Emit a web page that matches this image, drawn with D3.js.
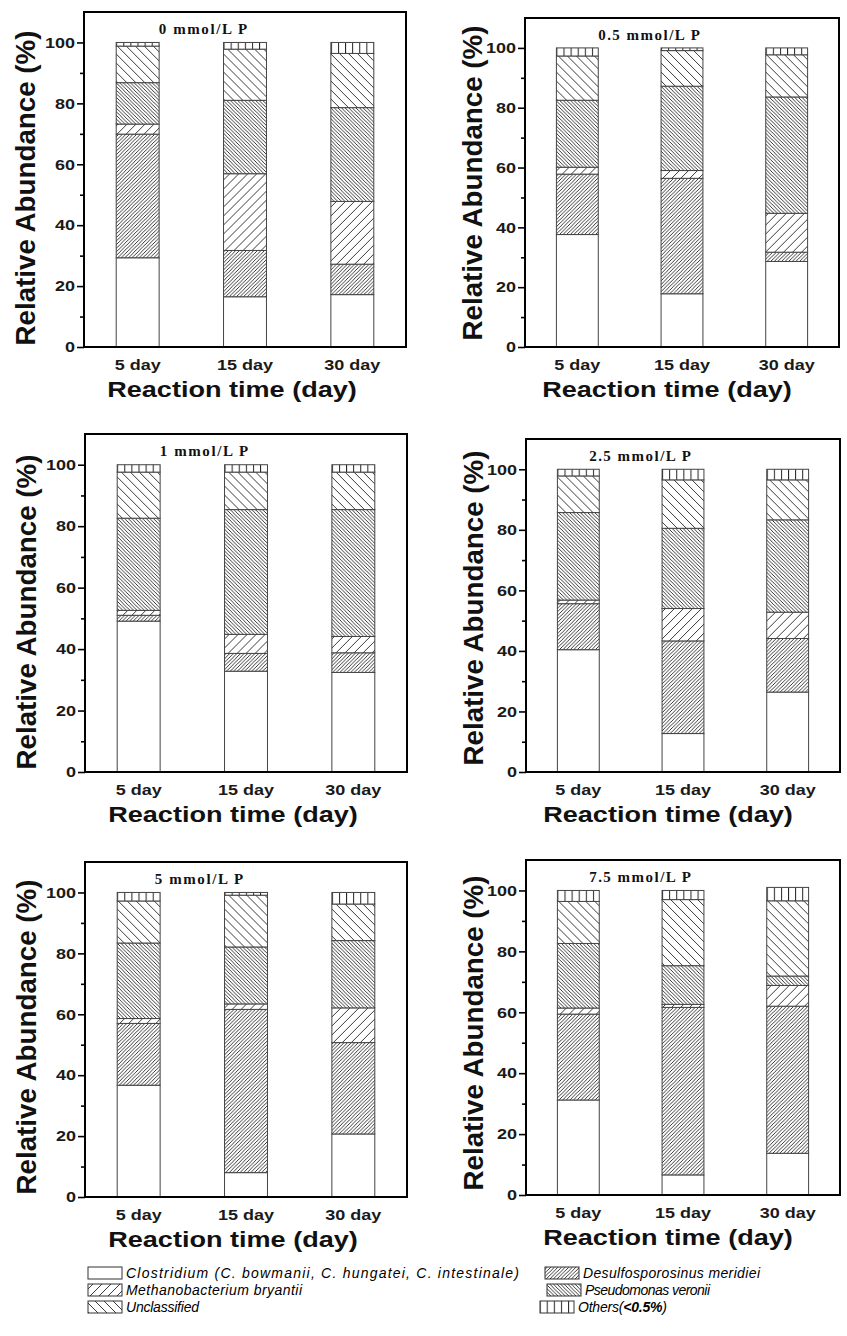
<!DOCTYPE html>
<html lang="en">
<head>
<meta charset="UTF-8">
<title>Relative abundance</title>
<style>
  body { margin: 0; background: #fff; }
  svg { display: block; }
</style>
</head>
<body>
<script src="https://cdn.jsdelivr.net/npm/d3@7"></script>
<script>
// ---- data ----
const days = ["5 day", "15 day", "30 day"];
const species = ["Clostridium", "Desulfosporosinus", "Methanobacterium", "Pseudomonas", "Unclassified", "Others"];
const yTicks = [0, 20, 40, 60, 80, 100];
const yMinor = [10, 30, 50, 70, 90];
const panelTitles = ["0 mmol/L P", "0.5 mmol/L P", "1 mmol/L P", "2.5 mmol/L P", "5 mmol/L P", "7.5 mmol/L P"];

// relative abundance (%), one row per day, columns in species order
const p0 = [[29.3, 40.6, 3.3, 13.6, 12.0, 1.2],
            [16.5, 15.2, 25.2, 24.1, 16.8, 2.2],
            [17.2, 10.0, 20.6, 30.8, 17.8, 3.6]];
const p05 = [[37.6, 20.2, 2.3, 22.4, 14.8, 2.7],
             [17.8, 38.6, 2.6, 28.2, 11.9, 0.9],
             [28.6, 3.1, 13.0, 38.9, 14.1, 2.3]];
const p1 = [[49.1, 1.9, 1.6, 30.0, 15.0, 2.4],
            [32.8, 5.8, 6.2, 40.6, 12.2, 2.4],
            [32.4, 6.4, 5.3, 41.3, 12.2, 2.4]];
const p25 = [[40.4, 15.2, 1.2, 28.9, 12.1, 2.2],
             [12.7, 30.6, 10.7, 26.5, 16.0, 3.5],
             [26.4, 17.7, 8.7, 30.5, 13.2, 3.5]];
const p5 = [[36.7, 20.3, 1.6, 24.8, 13.8, 2.8],
            [8.0, 53.6, 1.8, 18.7, 17.0, 0.9],
            [20.7, 30.0, 11.4, 22.1, 12.0, 3.8]];
const p75 = [[31.2, 28.2, 2.0, 21.2, 13.8, 3.6],
             [6.6, 55.0, 1.0, 12.7, 21.7, 3.0],
             [13.7, 48.3, 6.8, 3.1, 24.7, 4.4]];
const panelData = [p0, p05, p1, p25, p5, p75];

const legendLabels = {
  Clostridium: "Clostridium (C. bowmanii, C. hungatei, C. intestinale)",
  Desulfosporosinus: "Desulfosporosinus meridiei",
  Methanobacterium: "Methanobacterium bryantii",
  Pseudomonas: "Pseudomonas veronii",
  Unclassified: "Unclassified",
  Others: "Others("
};

// ---- layout ----
const W = 847, H = 1336;
const sans = "'Liberation Sans', Arial, sans-serif";
const serif = "'Liberation Serif', 'Times New Roman', serif";

const frames = [
  {x0: 84,  x1: 406, yTop: 12,  yBot: 347,  tcx: 203, ytx: 35,  yty: 188,  xtdx: -13},
  {x0: 525, x1: 839, yTop: 18,  yBot: 347,  tcx: 649, ytx: 482, yty: 183,  xtdx: -15},
  {x0: 85,  x1: 407, yTop: 434, yBot: 772,  tcx: 204, ytx: 36,  yty: 612,  xtdx: -13},
  {x0: 526, x1: 840, yTop: 439, yBot: 772,  tcx: 640, ytx: 483, yty: 608,  xtdx: -15},
  {x0: 85,  x1: 407, yTop: 862, yBot: 1197, tcx: 199, ytx: 36,  yty: 1037, xtdx: -13},
  {x0: 526, x1: 840, yTop: 860, yBot: 1195, tcx: 640, ytx: 483, yty: 1033, xtdx: -15}
];

const svg = d3.select("body").append("svg")
  .attr("width", W)
  .attr("height", H);
svg.append("rect").attr("width", W).attr("height", H).attr("fill", "#fff");

const defs = svg.append("defs");

function hatch(id, w, dir, sw) {
  const p = defs.append("pattern")
    .attr("id", id)
    .attr("patternUnits", "userSpaceOnUse")
    .attr("width", w)
    .attr("height", w);
  p.append("rect").attr("width", w).attr("height", w).attr("fill", "#fff");
  let d;
  if (dir === "/") {
    d = `M0,${w} L${w},0 M${-w / 2},${w / 2} L${w / 2},${-w / 2} M${w / 2},${w * 1.5} L${w * 1.5},${w / 2}`;
  } else if (dir === "\\") {
    d = `M0,0 L${w},${w} M${-w / 2},${w / 2} L${w / 2},${w * 1.5} M${w / 2},${-w / 2} L${w * 1.5},${w / 2}`;
  } else {
    d = `M0.5,0 L0.5,${w}`;
  }
  p.append("path").attr("d", d)
    .attr("stroke", "#222")
    .attr("stroke-width", sw)
    .attr("fill", "none");
}
hatch("desulfo", 3.6, "/", 0.9);
hatch("methano", 9, "/", 0.9);
hatch("pseudo", 3.6, "\\", 0.9);
hatch("unclass", 9, "\\", 0.9);
hatch("others", 7.1, "|", 1);

const fills = {
  Clostridium: "#fff",
  Desulfosporosinus: "url(#desulfo)",
  Methanobacterium: "url(#methano)",
  Pseudomonas: "url(#pseudo)",
  Unclassified: "url(#unclass)",
  Others: "url(#others)"
};

function stretch(sel, k, adjust) {
  sel.each(function () {
    const L = this.getComputedTextLength();
    d3.select(this).attr("textLength", L * k).attr("lengthAdjust", adjust || "spacingAndGlyphs");
  });
}

// ---- panels ----
frames.forEach((f, k) => {
  const rows = panelData[k].map((v, i) => {
    const r = {day: days[i]};
    species.forEach((s, j) => r[s] = v[j]);
    return r;
  });
  const series = d3.stack().keys(species)(rows);

  const x = d3.scaleBand().domain(days).range([f.x0, f.x1]).paddingInner(0.6).paddingOuter(0.3);
  const y = d3.scaleLinear().domain([0, 110]).range([f.yBot, f.yTop]);

  const g = svg.append("g");

  series.forEach(s => {
    g.selectAll(null)
      .data(s)
      .join("g")
      .attr("transform", d => `translate(${x(d.data.day)},0)`)
      .append("rect")
      .attr("x", 0)
      .attr("y", d => y(d[1]))
      .attr("width", x.bandwidth())
      .attr("height", d => y(d[0]) - y(d[1]))
      .attr("fill", fills[s.key])
      .attr("stroke", "#444")
      .attr("stroke-width", 1);
  });

  // frame
  g.append("rect")
    .attr("x", f.x0).attr("y", f.yTop)
    .attr("width", f.x1 - f.x0).attr("height", f.yBot - f.yTop)
    .attr("fill", "none").attr("stroke", "#000").attr("stroke-width", 2);

  // y axis
  const ax = g.append("g")
    .attr("transform", `translate(${f.x0},0)`)
    .call(d3.axisLeft(y).tickValues(yTicks).tickSize(7).tickPadding(2));
  const axm = g.append("g")
    .attr("transform", `translate(${f.x0},0)`)
    .call(d3.axisLeft(y).tickValues(yMinor).tickSize(4).tickFormat(""));
  [ax, axm].forEach(a => {
    a.select(".domain").remove();
    a.selectAll("line").attr("stroke", "#000").attr("stroke-width", 1.6);
  });
  ax.selectAll("text")
    .attr("font-family", sans).attr("font-size", 15).attr("font-weight", "bold").attr("fill", "#1a1a1a");
  stretch(ax.selectAll("text"), 1.2);

  // x labels
  const xl = g.append("g")
    .attr("transform", `translate(0,${f.yBot})`)
    .call(d3.axisBottom(x).tickSize(0));
  xl.select(".domain").remove();
  xl.selectAll("text")
    .attr("y", 23).attr("dy", 0)
    .attr("font-family", sans).attr("font-size", 15).attr("font-weight", "bold").attr("fill", "#1a1a1a");
  stretch(xl.selectAll("text"), 1.2);

  // axis titles
  const xt = g.append("text")
    .attr("x", (f.x0 + f.x1) / 2 + f.xtdx).attr("y", f.yBot + 50)
    .attr("text-anchor", "middle")
    .attr("font-family", sans).attr("font-size", 22).attr("font-weight", "bold").attr("fill", "#111")
    .text("Reaction time (day)");
  stretch(xt, 1.23);

  const yt = g.append("text")
    .attr("transform", `translate(${f.ytx},${f.yty}) rotate(-90)`)
    .attr("text-anchor", "middle")
    .attr("font-family", sans).attr("font-size", 27).attr("font-weight", "bold").attr("fill", "#111")
    .text("Relative Abundance (%)");
  yt.attr("textLength", 315).attr("lengthAdjust", "spacingAndGlyphs");

  // panel title
  const tt = g.append("text")
    .attr("x", f.tcx).attr("y", f.yTop + 22)
    .attr("text-anchor", "middle")
    .attr("font-family", serif).attr("font-size", 15).attr("font-weight", "bold").attr("fill", "#111")
    .text(panelTitles[k]);
  stretch(tt, 1.19, "spacing");
});

// ---- legend ----
const legendPos = [
  {key: "Clostridium",       x: 88,  y: 1273, len: 393},
  {key: "Desulfosporosinus", x: 545, y: 1273, len: 177},
  {key: "Methanobacterium",  x: 88,  y: 1290, len: 176},
  {key: "Pseudomonas",       x: 547, y: 1290, len: 125},
  {key: "Unclassified",      x: 88,  y: 1307, len: 73},
  {key: "Others",            x: 540, y: 1307, len: 89}
];

const lg = svg.append("g");
legendPos.forEach(it => {
  lg.append("rect")
    .attr("x", it.x).attr("y", it.y - 6)
    .attr("width", 34).attr("height", 12)
    .attr("fill", fills[it.key])
    .attr("stroke", "#333").attr("stroke-width", 1);
  const t = lg.append("text")
    .attr("x", it.x + 38).attr("y", it.y + 5)
    .attr("font-family", sans).attr("font-size", 14).attr("font-style", "italic").attr("fill", "#000")
    .text(legendLabels[it.key]);
  if (it.key === "Others") {
    t.append("tspan").attr("font-weight", "bold").text("<0.5%");
    t.append("tspan").text(")");
  }
  t.attr("textLength", it.len).attr("lengthAdjust", "spacing");
});
</script>
</body>
</html>
